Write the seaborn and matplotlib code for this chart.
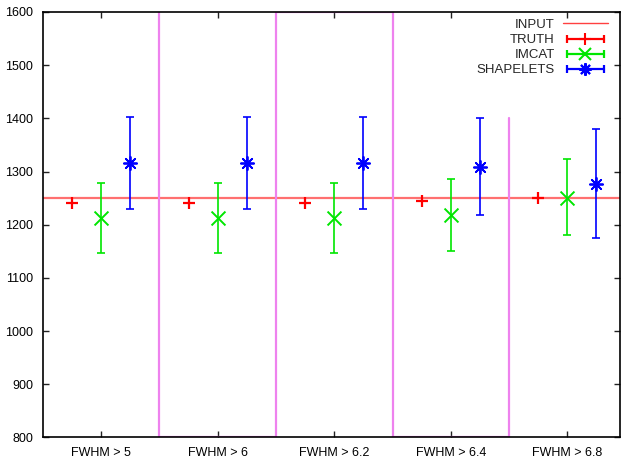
import numpy as np
import pandas as pd
import matplotlib
matplotlib.use("Agg")
import matplotlib.pyplot as plt
from matplotlib.lines import Line2D
from matplotlib.legend_handler import HandlerLine2D, HandlerTuple
import seaborn as sns

# datos
cortes = ["FWHM > 5", "FWHM > 6", "FWHM > 6.2", "FWHM > 6.4", "FWHM > 6.8"]
input_val = 1250

truth = [1241, 1241, 1241, 1244, 1251]

imcat = [1212, 1212, 1212, 1218, 1251]
imcat_lo = [1146, 1146, 1146, 1151, 1180]
imcat_hi = [1278, 1278, 1279, 1286, 1323]

shape = [1316, 1316, 1316, 1309, 1277]
shape_lo = [1229, 1229, 1230, 1218, 1175]
shape_hi = [1402, 1402, 1403, 1400, 1380]

# linea violeta (escalones)
sep_x = [1.5, 1.5, 2.5, 2.5, 3.5, 3.5, 4.5, 4.5]
sep_y = [1800, 800, 800, 1600, 1600, 800, 800, 1400]

sns.set_theme(style="ticks")
plt.rcParams['font.family'] = ['Liberation Sans', 'DejaVu Sans']

fig = plt.figure(figsize=(6.21, 4.61), dpi=100)
ax = fig.add_axes([0.0692, 0.051, 0.9288, 0.923])

pos = np.arange(1, len(cortes) + 1)
rojo, verde, azul = "#ff0000", "#00e600", "#0000ff"

ax.axhline(input_val, color="#ff7070", lw=1.6, zorder=1)
ax.plot(sep_x, sep_y, color="#ee82ee", lw=1.6, zorder=1)

# barras de error
ax.errorbar(pos, imcat, yerr=[np.array(imcat) - imcat_lo, np.array(imcat_hi) - imcat], fmt="none",
            ecolor=verde, elinewidth=1.2, capsize=3, capthick=1.2, zorder=3)
ax.errorbar(pos + 0.25, shape, yerr=[np.array(shape) - shape_lo, np.array(shape_hi) - shape], fmt="none",
            ecolor=azul, elinewidth=1.2, capsize=3, capthick=1.2, zorder=3)

df = pd.DataFrame({"x": np.concatenate([pos - 0.25, pos, pos + 0.25]),
                   "y": truth + imcat + shape,
                   "serie": ["TRUTH"] * 5 + ["IMCAT"] * 5 + ["SHAPELETS"] * 5})
marcas = {"TRUTH": ("+", rojo, 70, 1.6), "IMCAT": ("x", verde, 100, 1.4), "SHAPELETS": ((8, 2, 0), azul, 90, 1.3)}
for s, (m, c, sz, lw) in marcas.items():
    sub = df[df.serie == s]
    sns.scatterplot(data=sub, x="x", y="y", marker=m, color=c, s=sz, linewidth=lw, ax=ax, zorder=4, legend=False)

ax.set_xlim(0.5, 5.45)
ax.set_ylim(800, 1600)
ax.set_xticks(pos)
ax.set_xticklabels(cortes)
ax.set_yticks(np.arange(800, 1601, 100))
ax.set_xlabel("")
ax.set_ylabel("")
ax.tick_params(direction="in", length=4, width=1, top=True, right=True, labelsize=9, colors="#222222",
               labelcolor="black", pad=7)
for sp in ax.spines.values():
    sp.set_linewidth(1.2)
    sp.set_color("black")
    sp.set_zorder(2)

# leyenda estilo gnuplot
h_in = Line2D([], [], color="#ff4040", lw=1)
def barra(c, m, ms):
    linea = Line2D([0, 1], [0, 0], color=c, lw=1.6, marker="|", markersize=6, mew=1.6)
    punto = Line2D([0], [0], color=c, lw=0, marker=m, markersize=ms, mew=1.5)
    return linea, punto
hs = [barra(rojo, "+", 9), barra(verde, "x", 9), barra(azul, (8, 2, 0), 9)]
hmap = {}
for linea, punto in hs:
    hmap[linea] = HandlerLine2D(numpoints=2)
    hmap[punto] = HandlerLine2D(numpoints=1)
handles = [h_in] + [tuple(h) for h in hs]
hmap[tuple] = HandlerTuple(ndivide=1, pad=0)
ax.legend(handles, ["INPUT", "TRUTH", "IMCAT", "SHAPELETS"], handler_map=hmap, loc="upper right",
          bbox_to_anchor=(0.979, 0.984), frameon=False, markerfirst=False, fontsize=9.5,
          handlelength=3.4, handletextpad=0.6, labelspacing=0.22, borderpad=0, borderaxespad=0)

fig.savefig("out.png", dpi=100)
